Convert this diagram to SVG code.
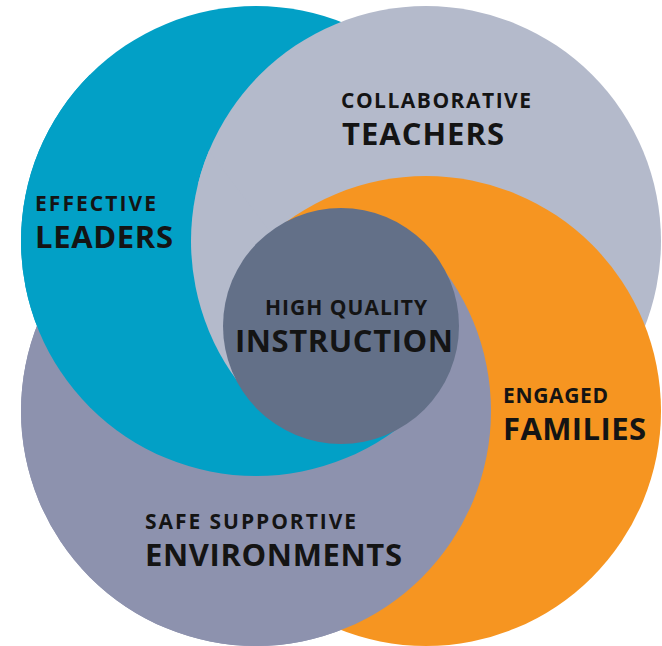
<svg xmlns="http://www.w3.org/2000/svg" xmlns:xlink="http://www.w3.org/1999/xlink" width="662" height="646" viewBox="0 0 662 646">
  <style>
    .leaders { fill: #02a0c6; }
    .teachers { fill: #b4bacb; }
    .families { fill: #f69521; }
    .environments { fill: #8d92ae; }
    .instruction { fill: #637088; }
    .lbl { font-family: "Open Sans", "Liberation Sans", sans-serif; font-weight: 700; fill: #141414; }
    .sm { font-size: 21px; }
    .lg { font-size: 31px; }
  </style>
  <defs>
    <circle id="c-leaders" cx="256" cy="241" r="235"/>
    <circle id="c-teachers" cx="426" cy="241" r="235"/>
    <circle id="c-families" cx="426" cy="411" r="235"/>
    <circle id="c-environments" cx="256" cy="411" r="235"/>
    <!-- wedges around the hub centre (341,326) -->
    <clipPath id="clip-not-top">
      <polygon points="341,326 1341,-674 1341,1326 -659,1326 -659,-674"/>
    </clipPath>
    <clipPath id="clip-bottom-left">
      <polygon points="341,326 1341,1326 -659,1326 -659,-674"/>
    </clipPath>
    <clipPath id="clip-left">
      <polygon points="341,326 -381,-632 -1400,-632 -1400,1326 -659,1326"/>
    </clipPath>
  </defs>

  <g id="circle-underlay">
    <use xlink:href="#c-environments" class="environments"/>
    <use xlink:href="#c-leaders" class="leaders"/>
    <use xlink:href="#c-teachers" class="teachers"/>
  </g>

  <g id="node-families">
    <use xlink:href="#c-families" class="families"/>
    <text class="lbl sm" x="503" y="403" textLength="105" lengthAdjust="spacing">ENGAGED</text>
    <text class="lbl lg" x="503" y="440" textLength="143" lengthAdjust="spacing">FAMILIES</text>
  </g>

  <g id="node-environments">
    <use xlink:href="#c-environments" class="environments" clip-path="url(#clip-not-top)"/>
    <text class="lbl sm" x="145" y="529" textLength="211" lengthAdjust="spacing">SAFE SUPPORTIVE</text>
    <text class="lbl lg" x="145" y="566" textLength="257" lengthAdjust="spacing">ENVIRONMENTS</text>
  </g>

  <g id="node-leaders">
    <use xlink:href="#c-leaders" class="leaders" clip-path="url(#clip-bottom-left)"/>
    <text class="lbl sm" x="35" y="211" textLength="121" lengthAdjust="spacing">EFFECTIVE</text>
    <text class="lbl lg" x="35" y="248" textLength="138" lengthAdjust="spacing">LEADERS</text>
  </g>

  <g id="node-teachers">
    <use xlink:href="#c-teachers" class="teachers" clip-path="url(#clip-left)"/>
    <text class="lbl sm" x="341" y="108" textLength="190" lengthAdjust="spacing">COLLABORATIVE</text>
    <text class="lbl lg" x="342" y="145" textLength="162" lengthAdjust="spacing">TEACHERS</text>
  </g>

  <g id="node-instruction">
    <circle class="instruction" cx="341" cy="326" r="118"/>
    <text class="lbl sm" x="265" y="315" textLength="162" lengthAdjust="spacing">HIGH QUALITY</text>
    <text class="lbl lg" x="235" y="352" textLength="218" lengthAdjust="spacing">INSTRUCTION</text>
  </g>

  <g id="connectors"/>
</svg>
